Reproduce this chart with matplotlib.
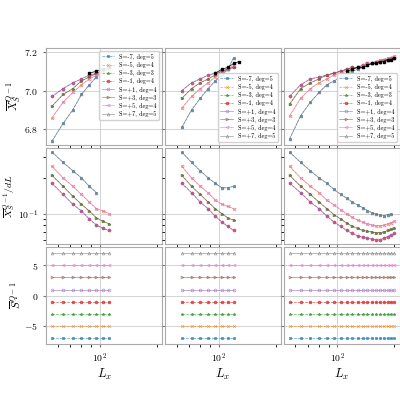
import numpy as np
import matplotlib
matplotlib.use("Agg")
import matplotlib.pyplot as plt

plt.rcParams['font.family'] = 'serif'
plt.rcParams['font.serif'] = ['cmr10', 'DejaVu Serif']
plt.rcParams['mathtext.fontset'] = 'cm'
plt.rcParams['axes.unicode_minus'] = False
plt.rcParams['axes.formatter.use_mathtext'] = True

S_vals = [-7, -5, -3, -1, 1, 3, 5, 7]
degs = [[5, 4, 3, 4, 4, 3, 4, 5], [5, 4, 4, 4, 4, 3, 4, 5], [5, 4, 3, 4, 4, 3, 4, 5]]
colors = ['#1f77b4', '#ff7f0e', '#2ca02c', '#d62728', '#9467bd', '#8c564b', '#e377c2', '#7f7f7f']
markers = ['s', 'x', '*', 'o', 'o', '>', '<', '^']

Lx1 = [56, 64, 72, 80, 88, 96, 104, 112]
Lx2 = [64, 72, 80, 88, 96, 104, 112, 120]
Lx3 = [56, 64, 72, 80, 88, 96, 104, 112, 120, 128, 136, 144, 152, 160, 168, 176, 184, 192, 200]
Lxs = [Lx1, Lx2, Lx3]

top1 = {1: [6.97, 7.01, 7.04, 7.06, 7.08, 7.09, 7.10, 7.11],
        3: [6.92, 6.98, 7.01, 7.05, 7.07, 7.09, 7.10, 7.11],
        5: [6.86, 6.94, 6.99, 7.03, 7.06, 7.08, 7.10, 7.11],
        7: [6.74, 6.83, 6.90, 6.98, 7.03, 7.07, 7.10, 7.12]}
top2 = {1: [7.00, 7.04, 7.06, 7.08, 7.09, 7.10, 7.11, 7.12],
        3: [6.96, 7.01, 7.04, 7.06, 7.08, 7.10, 7.11, 7.12],
        5: [6.91, 6.97, 7.01, 7.04, 7.07, 7.09, 7.11, 7.13],
        7: [6.81, 6.90, 6.96, 7.01, 7.05, 7.08, 7.11, 7.17]}
top3 = {1: [6.97, 7.03, 7.06, 7.07, 7.08, 7.09, 7.10, 7.11, 7.12, 7.12, 7.13, 7.14, 7.14, 7.15, 7.15, 7.16, 7.16, 7.17, 7.17],
        3: [6.93, 7.01, 7.04, 7.06, 7.08, 7.09, 7.10, 7.11, 7.12, 7.12, 7.13, 7.14, 7.14, 7.15, 7.15, 7.16, 7.16, 7.17, 7.17],
        5: [6.87, 6.96, 7.01, 7.04, 7.06, 7.08, 7.09, 7.10, 7.11, 7.12, 7.13, 7.14, 7.14, 7.15, 7.16, 7.16, 7.17, 7.17, 7.18],
        7: [6.75, 6.87, 6.94, 6.99, 7.03, 7.05, 7.07, 7.09, 7.10, 7.11, 7.12, 7.13, 7.14, 7.14, 7.15, 7.16, 7.16, 7.17, 7.17]}
black_x = [[88, 96, 104, 112], [96, 104, 112, 120, 128], [112, 120, 128, 136, 144, 152, 160, 168, 176, 184, 192, 200]]
black_y = [[7.09, 7.10, 7.11, 7.12], [7.09, 7.11, 7.12, 7.14, 7.15],
           [7.10, 7.11, 7.12, 7.12, 7.13, 7.14, 7.14, 7.15, 7.15, 7.16, 7.16, 7.17]]

mid1 = {1: [0.18, 0.145, 0.12, 0.105, 0.09, 0.08, 0.075, 0.072],
        3: [0.21, 0.17, 0.14, 0.12, 0.105, 0.092, 0.086, 0.082],
        5: [0.25, 0.20, 0.17, 0.145, 0.125, 0.11, 0.105, 0.10],
        7: [0.33, 0.27, 0.23, 0.20, 0.17, 0.15]}
mid2 = {1: [0.18, 0.15, 0.125, 0.11, 0.095, 0.085, 0.078, 0.072],
        3: [0.21, 0.17, 0.145, 0.125, 0.11, 0.10, 0.092, 0.088],
        5: [0.25, 0.20, 0.17, 0.15, 0.13, 0.12, 0.115, 0.11],
        7: [0.33, 0.27, 0.23, 0.20, 0.18, 0.165, 0.165, 0.17]}
mid3 = {1: [0.18, 0.15, 0.125, 0.11, 0.095, 0.085, 0.078, 0.072, 0.068, 0.065, 0.063, 0.062, 0.061, 0.060, 0.060, 0.062, 0.064, 0.066, 0.068],
        3: [0.21, 0.17, 0.145, 0.125, 0.11, 0.098, 0.09, 0.083, 0.078, 0.075, 0.072, 0.071, 0.070, 0.069, 0.069, 0.070, 0.072, 0.074, 0.076],
        5: [0.25, 0.20, 0.17, 0.15, 0.13, 0.118, 0.108, 0.10, 0.093, 0.088, 0.085, 0.082, 0.080, 0.079, 0.079, 0.080, 0.082, 0.084, 0.086],
        7: [0.33, 0.27, 0.23, 0.20, 0.18, 0.16, 0.145, 0.135, 0.125, 0.118, 0.112, 0.106, 0.102, 0.099, 0.097, 0.096, 0.098, 0.10]}
tops = [top1, top2, top3]
mids = [mid1, mid2, mid3]

fig, axes = plt.subplots(3, 3, figsize=(4, 4), dpi=100, sharex='col', sharey='row')
fig.subplots_adjust(left=0.115, right=1.0, top=0.88, bottom=0.14, wspace=0.02, hspace=0.03)

for c in range(3):
    Lx = Lxs[c]
    for i, S in enumerate(S_vals):
        kw = dict(color=colors[i], marker=markers[i], ms=2, lw=0.5, ls='--' if S < 0 else '-',
                  mfc='none' if S > 0 else colors[i], mew=0.5, alpha=0.75)
        t = tops[c][abs(S)]
        axes[0, c].plot(Lx[:len(t)], t, label=f"S={S:+d}, deg={degs[c][i]}", **kw)
        m = mids[c][abs(S)]
        axes[1, c].plot(Lx[:len(m)], m, **kw)
        axes[2, c].plot(Lx, [S] * len(Lx), **kw)
    axes[0, c].plot(black_x[c], black_y[c], color='k', marker='s', ms=1.5, lw=0.5)
    axes[1, c].set_yscale('log')
    axes[2, c].set_xscale('log')
    axes[2, c].set_xlim(52, 214)
    axes[2, c].set_xlabel(r'$L_x$', fontsize=9, labelpad=1)
    axes[2, c].set_xticks([100])
    axes[2, c].set_xticklabels([r'$10^2$'], fontsize=7)
    axes[2, c].xaxis.set_minor_formatter(matplotlib.ticker.NullFormatter())
    for r in range(3):
        ax = axes[r, c]
        ax.grid(True, color='#cccccc', lw=0.6)
        for sp in ax.spines.values():
            sp.set_color('#aaaaaa')
        ax.tick_params(labelsize=7, colors='#777777', labelcolor='black', length=2)
    loc = 'upper right' if c == 0 else 'lower right'
    axes[0, c].legend(loc=loc, fontsize=4.5, framealpha=0.9, handlelength=2, labelspacing=0.3, borderpad=0.4)

axes[0, 0].set_ylim(6.72, 7.22)
axes[0, 0].set_yticks([6.8, 7.0, 7.2])
axes[1, 0].set_ylim(0.055, 0.36)
axes[1, 0].set_yticks([0.1])
axes[1, 0].set_yticklabels([r'$10^{-1}$'])
axes[1, 0].yaxis.set_minor_formatter(matplotlib.ticker.NullFormatter())
axes[2, 0].set_ylim(-8, 8)
axes[2, 0].set_yticks([-5, 0, 5])
axes[0, 0].set_ylabel(r'$\overline{X}_S^{Q-1}$', fontsize=8, labelpad=1)
axes[1, 0].set_ylabel(r'$\overline{X}_S^{Q-1}/dL$', fontsize=7, labelpad=0)
axes[2, 0].set_ylabel(r'$\overline{S}^{Q-1}$', fontsize=8, labelpad=1)

fig.savefig('out.png', dpi=100)
